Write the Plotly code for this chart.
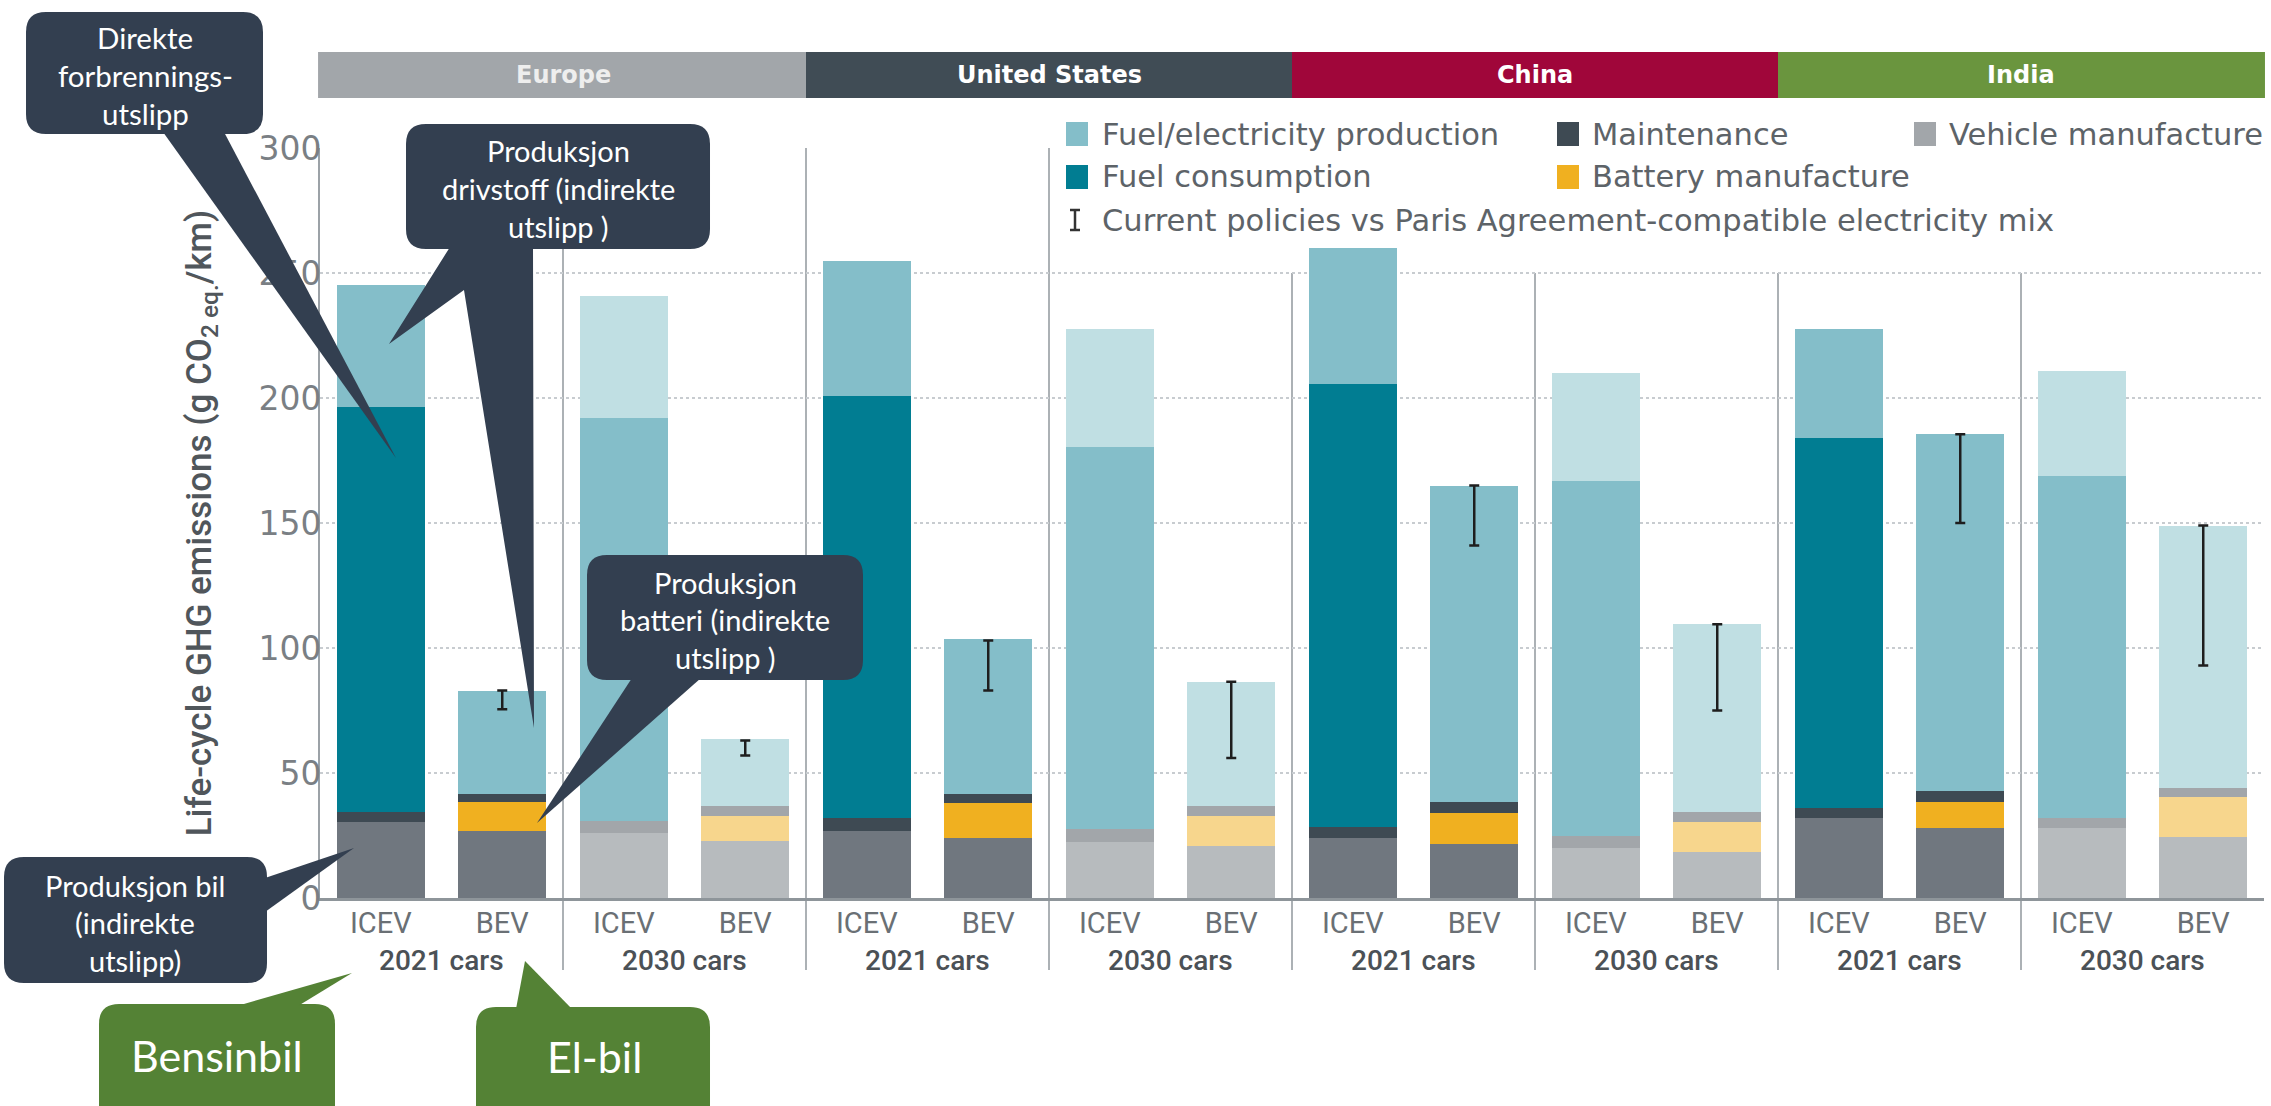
import plotly.graph_objects as go

# ---------------- data ----------------
regions = ["Europe", "United States", "China", "India"]
car_years = ["2021 cars", "2030 cars"]
powertrains = ["ICEV", "BEV"]

# 16 bars: region -> car year -> powertrain
vehicle_manufacture = [30.6, 27, 26, 23, 27, 24, 22.5, 21, 24, 21.5, 20, 18.5, 32, 28, 28, 24.5]
battery_manufacture = [0, 11.5, 0, 10, 0, 14, 0, 12, 0, 12.5, 0, 12, 0, 10.5, 0, 16]
maintenance = [4, 3, 5, 4, 5, 3.5, 5, 4, 4.5, 4.5, 5, 4, 4, 4.5, 4, 3.5]
fuel_consumption = [162, 0, 161, 0, 169, 0, 153, 0, 177, 0, 142, 0, 148, 0, 137, 0]
fuel_electricity_production = [48.5, 41.5, 49, 26.5, 54, 62, 47, 49.5, 54.5, 126.5, 43, 75, 43.5, 142.5, 42, 105]

# error bars (BEV only): current policies (high) vs Paris-compatible mix (low)
err_high = [83, 63, 103, 86.5, 165, 109.5, 185.5, 149]
err_low = [75.5, 57, 83, 56, 141, 75, 150, 93]

legend_labels = ["Fuel/electricity production", "Maintenance", "Vehicle manufacture",
                 "Fuel consumption", "Battery manufacture"]
errbar_label = "Current policies vs Paris Agreement-compatible electricity mix"
y_ticks = [0, 50, 100, 150, 200, 250, 300]

# ---------------- derived structure ----------------
bar_region, bar_year, bar_pt = [], [], []
for r in regions:
    for yr in car_years:
        for p in powertrains:
            bar_region.append(r)
            bar_year.append(yr)
            bar_pt.append(p)
xs = list(range(len(bar_pt)))
bev_x = [i for i, p in enumerate(bar_pt) if p == "BEV"]

# colours: (2021 colour, 2030 faded colour)
COL = {
    "veh": ("#70777f", "#b7bbbe"),
    "bat": ("#f0b020", "#f7d68d"),
    "mnt": ("#3e4a53", "#a2a6aa"),
    "fc": ("#017d92", "#84bec9"),
    "fp": ("#84bec9", "#c0dfe3"),
}

def colors(key):
    return [COL[key][0] if y == car_years[0] else COL[key][1] for y in bar_year]

fig = go.Figure()
for key, vals, name in [("veh", vehicle_manufacture, "Vehicle manufacture"),
                        ("bat", battery_manufacture, "Battery manufacture"),
                        ("mnt", maintenance, "Maintenance"),
                        ("fc", fuel_consumption, "Fuel consumption"),
                        ("fp", fuel_electricity_production, "Fuel/electricity production")]:
    fig.add_trace(go.Bar(x=xs, y=vals, name=name, marker=dict(color=colors(key), line=dict(width=0)),
                         showlegend=False))

fig.add_trace(go.Scatter(
    x=bev_x, y=err_high, mode="markers", marker=dict(size=1, opacity=0), showlegend=False,
    name=errbar_label,
    error_y=dict(type="data", symmetric=False, array=[0] * len(err_high),
                 arrayminus=[h - l for h, l in zip(err_high, err_low)],
                 color="#1e1e1e", thickness=2.5, width=5)))

# ---------------- layout helpers (pixel -> paper) ----------------
L, R, T, B = 320, 2264, 148, 898
PW, PH = R - L, B - T

def px(X):
    return (X - L) / PW

def py(Y):
    return (B - Y) / PH

def pt(X, Y):
    return f"{px(X):.5f},{py(Y):.5f}"

def rrect(x0, y0, x1, y1, r):
    return ("M " + pt(x0 + r, y0) + " L " + pt(x1 - r, y0) + " Q " + pt(x1, y0) + " " + pt(x1, y0 + r) +
            " L " + pt(x1, y1 - r) + " Q " + pt(x1, y1) + " " + pt(x1 - r, y1) +
            " L " + pt(x0 + r, y1) + " Q " + pt(x0, y1) + " " + pt(x0, y1 - r) +
            " L " + pt(x0, y0 + r) + " Q " + pt(x0, y0) + " " + pt(x0 + r, y0) + " Z")

def poly(points):
    return "M " + " L ".join(pt(a, b) for a, b in points) + " Z"

shapes = []
annotations = []

# white legend background hiding grid lines
shapes.append(dict(type="rect", xref="paper", yref="paper", x0=px(1056), x1=1.0, y0=py(266), y1=1.02,
                   fillcolor="white", line=dict(width=0), layer="between"))

# group separators
n = len(xs)
for k in range(2, n, 2):
    xk = k / n
    top = 1.0 if xk * PW + L < 1055 else py(273)
    shapes.append(dict(type="line", xref="paper", yref="paper", x0=xk, x1=xk, y0=py(970), y1=top,
                       line=dict(color="#acb1b5", width=2), layer="between"))

# region header bars
head_cols = ["#a2a6aa", "#404c55", "#a0063a", "#6a953e"]
nr = len(regions)
for i, reg in enumerate(regions):
    shapes.append(dict(type="rect", xref="paper", yref="paper", x0=i / nr - (0.001 if i == 0 else 0),
                       x1=(i + 1) / nr + (0.0005 if i == nr - 1 else 0), y0=py(98), y1=py(52),
                       fillcolor=head_cols[i], line=dict(width=0)))
    annotations.append(dict(text=f"<b>{reg}</b>", xref="paper", yref="paper", x=(i + 0.5) / nr,
                            y=py(75), showarrow=False, xanchor="center", yanchor="middle",
                            font=dict(family="DejaVu Sans", size=24,
                                      color="#eeeeee" if i == 0 else "white")))

# car-year group labels
for g in range(0, n, 2):
    annotations.append(dict(text=bar_year[g], xref="x", yref="paper", x=g + 0.5, y=py(960),
                            showarrow=False, xanchor="center", yanchor="middle",
                            font=dict(family="Roboto", size=28, color="#4b5156", weight=500)))

# custom legend
leg_items = [
    (legend_labels[0], COL["fp"][0], 1066, 134, 1100),
    (legend_labels[1], COL["mnt"][0], 1557, 134, 1590),
    (legend_labels[2], "#a2a6aa", 1914, 134, 1947),
    (legend_labels[3], COL["fc"][0], 1066, 177, 1100),
    (legend_labels[4], COL["bat"][0], 1557, 177, 1590),
]
for lab, c, sx, cy, tx in leg_items:
    shapes.append(dict(type="rect", xref="paper", yref="paper", x0=px(sx), x1=px(sx + 22),
                       y0=py(cy + 12), y1=py(cy - 12), fillcolor=c, line=dict(width=0)))
    annotations.append(dict(text=lab, xref="paper", yref="paper", x=px(tx), y=py(cy), showarrow=False,
                            xanchor="left", yanchor="middle",
                            font=dict(family="DejaVu Sans", size=30.5, color="#5d6368")))
# error-bar legend glyph
ix, iy = 1075, 220
for seg in [((ix, iy - 10), (ix, iy + 10)), ((ix - 5, iy - 10), (ix + 5, iy - 10)),
            ((ix - 5, iy + 10), (ix + 5, iy + 10))]:
    shapes.append(dict(type="line", xref="paper", yref="paper", x0=px(seg[0][0]), y0=py(seg[0][1]),
                       x1=px(seg[1][0]), y1=py(seg[1][1]), line=dict(color="#333", width=2.5)))
annotations.append(dict(text=errbar_label, xref="paper", yref="paper", x=px(1100), y=py(iy),
                        showarrow=False, xanchor="left", yanchor="middle",
                        font=dict(family="DejaVu Sans", size=30.5, color="#5d6368")))

# callouts
NAVY = "#333f50"
GREEN = "#548235"
callouts = [
    (NAVY, (26, 12, 263, 134), [(163, 132), (396, 458), (224, 132)], 145,
     [("Direkte", 37), ("forbrennings-", 75), ("utslipp", 113)], 29.5),
    (NAVY, (406, 124, 710, 249), [(450, 247), (389, 344), (464, 290), (534, 728), (533, 247)], 558,
     [("Produksjon", 150), ("drivstoff (indirekte", 189), ("utslipp )", 227)], 29),
    (NAVY, (587, 555, 863, 680), [(632, 678), (537, 823), (701, 678)], 725,
     [("Produksjon", 582), ("batteri (indirekte", 619), ("utslipp )", 657)], 29),
    (NAVY, (4, 857, 267, 983), [(265, 878), (354, 848), (265, 912)], 135,
     [("Produksjon bil", 885), ("(indirekte", 922), ("utslipp)", 960)], 29),
    (GREEN, (99, 1004, 335, 1125), [(237, 1006), (352, 973), (298, 1006)], 217,
     [("Bensinbil", 1055)], 43),
    (GREEN, (476, 1007, 710, 1125), [(516, 1009), (525, 961), (572, 1009)], 594,
     [("El-bil", 1056)], 43),
]
for col, (x0, y0, x1, y1), tail, cx, lines, fs in callouts:
    shapes.append(dict(type="path", xref="paper", yref="paper", path=rrect(x0, y0, x1, y1, 20),
                       fillcolor=col, line=dict(width=0), layer="above"))
    shapes.append(dict(type="path", xref="paper", yref="paper", path=poly(tail),
                       fillcolor=col, line=dict(width=0), layer="above"))
    for txt, ly in lines:
        annotations.append(dict(text=txt, xref="paper", yref="paper", x=px(cx), y=py(ly),
                                showarrow=False, xanchor="center", yanchor="middle",
                                font=dict(family="Lato", size=fs, color="white")))

fig.update_layout(
    width=2271, height=1106,
    margin=dict(l=L, r=2271 - R, t=T, b=1106 - B, autoexpand=False),
    paper_bgcolor="white", plot_bgcolor="white",
    barmode="stack", bargap=0.276, showlegend=False,
    shapes=shapes, annotations=annotations,
    xaxis=dict(range=[-0.5, n - 0.5], tickvals=xs, ticktext=bar_pt, showgrid=False, zeroline=False,
               showline=True, linecolor="#8e959a", linewidth=3, ticks="", ticklabelstandoff=-3,
               automargin=False,
               tickfont=dict(family="Roboto", size=29, color="#6a7075")),
    yaxis=dict(range=[0, 300], tickvals=y_ticks, showgrid=True, griddash="dot", gridcolor="#c8ccd0",
               gridwidth=2, zeroline=False, showline=True, linecolor="#9ca2a7", linewidth=2,
               ticks="", ticklabelstandoff=-10, automargin=False,
               tickfont=dict(family="DejaVu Sans", size=33, color="#7a7f84"),
               title=dict(text="Life-cycle GHG emissions (g CO<sub>2 eq.</sub>/km)", standoff=36,
                          font=dict(family="Roboto", size=35, color="#50565b", weight=500))),
)

fig.write_html("out.html", config={"displayModeBar": False},
               post_script="document.body.style.margin='0';")
